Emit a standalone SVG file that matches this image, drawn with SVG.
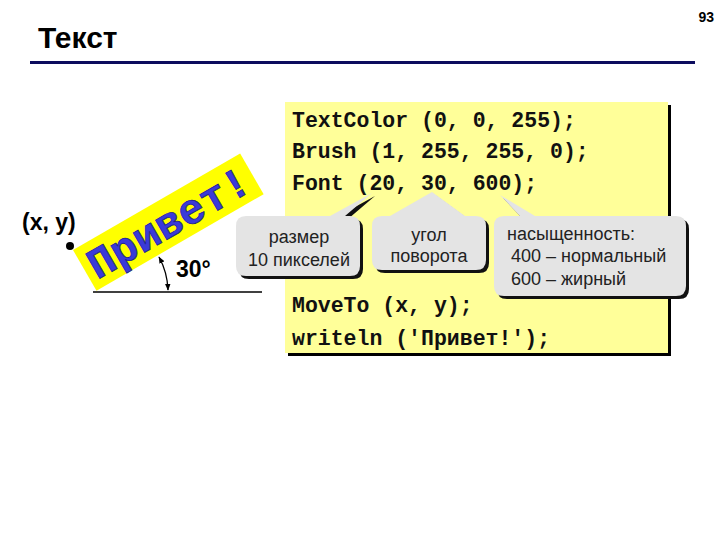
<svg xmlns="http://www.w3.org/2000/svg" width="720" height="540" viewBox="0 0 720 540">
<style>
.title{font-family:"Liberation Sans",Arial,sans-serif;font-weight:bold;font-size:30px;fill:#000}
.pg{font-family:"Liberation Sans",Arial,sans-serif;font-weight:bold;font-size:14px;fill:#000}
.lbl{font-family:"Liberation Sans",Arial,sans-serif;font-weight:bold;font-size:23px;fill:#000}
.code{font-family:"Liberation Mono","Courier New",monospace;font-weight:bold;font-size:21.5px;fill:#111}
.call{font-family:"Liberation Sans",Arial,sans-serif;font-size:18px;fill:#222}
.bub{fill:#e4e4e4}
.shd{fill:#111}
.hello{font-family:"Liberation Mono","Courier New",monospace;font-weight:bold;font-size:43px;fill:#3a3ad8;stroke:#1c1c8c;stroke-width:0.8}
</style>
<defs>
<marker id="ah" viewBox="0 0 10 10" refX="9" refY="5" markerWidth="7" markerHeight="7" orient="auto-start-reverse" markerUnits="userSpaceOnUse">
<path d="M0,1 L10,5 L0,9 z" fill="#000"/>
</marker>
</defs>
<rect width="720" height="540" fill="#fff"/>

<g id="header">
<text class="pg" x="714" y="22" text-anchor="end">93</text>
<text class="title" x="38" y="48">Текст</text>
<rect x="30" y="61" width="665" height="3" fill="#0c0c5e"/>
</g>

<g id="hello-demo">
<text class="lbl" x="22" y="230">(x, y)</text>
<circle cx="70" cy="246" r="4" fill="#000"/>
<g transform="translate(73,250) rotate(-30)">
<rect x="0" y="0" width="193" height="47" fill="#ffff00"/>
<text class="hello" x="6" y="38">Привет!</text>
</g>
<line x1="93" y1="292" x2="262" y2="292" stroke="#000" stroke-width="1.3"/>
<path d="M168,290 A74,74 0 0 0 159,257" fill="none" stroke="#000" stroke-width="1.3" marker-start="url(#ah)" marker-end="url(#ah)"/>
<text class="lbl" x="176" y="277">30°</text>
</g>

<g id="code-box">
<rect x="288" y="105" width="383" height="251" fill="#000"/>
<rect x="285" y="102" width="383" height="251" fill="#ffff99"/>
<text class="code" x="292" y="127">TextColor (0, 0, 255);</text>
<text class="code" x="292" y="158">Brush (1, 255, 255, 0);</text>
<text class="code" x="292" y="190">Font (20, 30, 600);</text>
<text class="code" x="292" y="312">MoveTo (x, y);</text>
<text class="code" x="292" y="345">writeln ('Привет!');</text>
</g>

<g id="callout-size">
<path class="shd" transform="translate(3,3)" d="M246,216 H330 L372,193 L345,216 H350 Q360,216 360,226 V266 Q360,276 350,276 H246 Q236,276 236,266 V226 Q236,216 246,216 Z"/>
<path class="bub" d="M246,216 H330 L372,193 L345,216 H350 Q360,216 360,226 V266 Q360,276 350,276 H246 Q236,276 236,266 V226 Q236,216 246,216 Z"/>
<text class="call" x="299" y="243" text-anchor="middle">размер</text>
<text class="call" x="299" y="266" text-anchor="middle">10 пикселей</text>
</g>

<g id="callout-angle">
<path class="shd" transform="translate(3,3)" d="M382,216 H390 L432,192 L465,216 H476 Q486,216 486,226 V260 Q486,270 476,270 H382 Q372,270 372,260 V226 Q372,216 382,216 Z"/>
<path class="bub" d="M382,216 H390 L432,192 L465,216 H476 Q486,216 486,226 V260 Q486,270 476,270 H382 Q372,270 372,260 V226 Q372,216 382,216 Z"/>
<text class="call" x="429" y="241" text-anchor="middle">угол</text>
<text class="call" x="429" y="262" text-anchor="middle">поворота</text>
</g>

<g id="callout-weight">
<path class="shd" transform="translate(3,3)" d="M504,216 H520 L500,195 L535,216 H676 Q686,216 686,226 V286 Q686,296 676,296 H504 Q494,296 494,286 V226 Q494,216 504,216 Z"/>
<path class="bub" d="M504,216 H520 L500,195 L535,216 H676 Q686,216 686,226 V286 Q686,296 676,296 H504 Q494,296 494,286 V226 Q494,216 504,216 Z"/>
<text class="call" x="507" y="240">насыщенность:</text>
<text class="call" x="511" y="262">400 – нормальный</text>
<text class="call" x="511" y="285">600 – жирный</text>
</g>
</svg>
